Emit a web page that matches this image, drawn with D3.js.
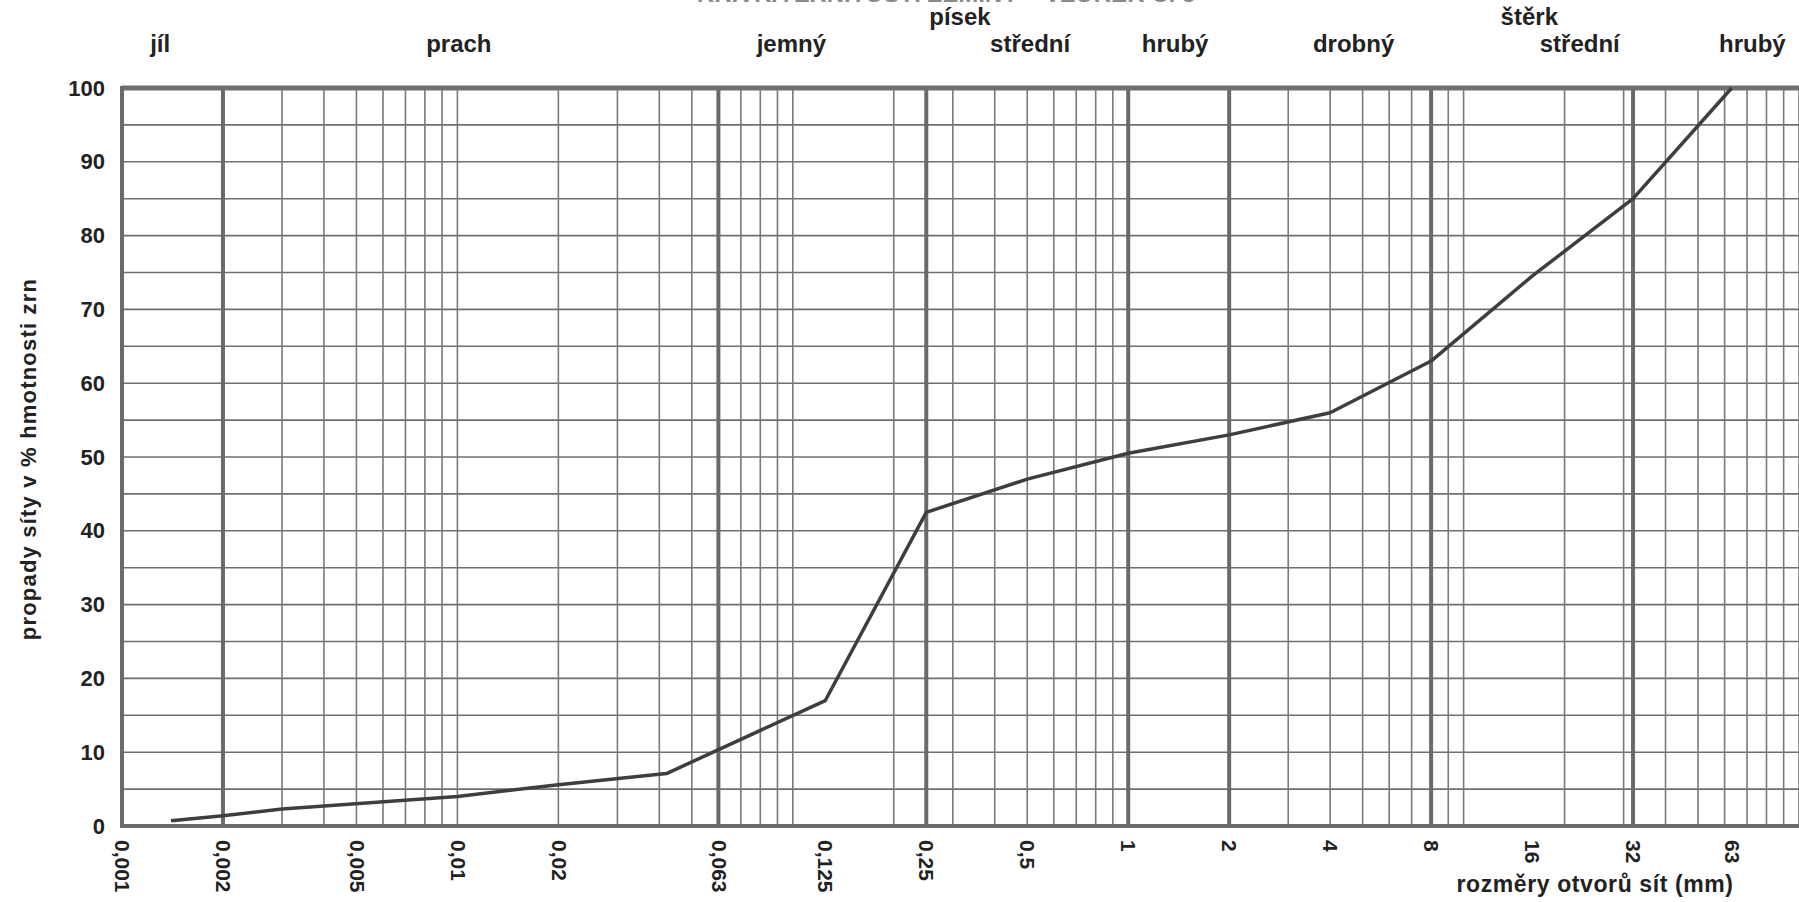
<!DOCTYPE html>
<html>
<head>
<meta charset="utf-8">
<script src="https://cdn.jsdelivr.net/npm/d3@7"></script>
<style>
  body { margin: 0; background: #fff; }
  svg { display: block; font-family: "Liberation Sans", Arial, sans-serif; }
</style>
</head>
<body>
<svg></svg>
<script>
// grain size curve
let sizes = [0.0014, 0.002, 0.003, 0.01, 0.02, 0.042, 0.125, 0.25, 0.5, 1, 2, 4, 8, 16, 32, 63]
let passing = [0.7, 1.4, 2.3, 4.0, 5.6, 7.1, 17.0, 42.5, 47.0, 50.5, 53.0, 56.0, 63.0, 74.5, 85.0, 100]

let xTicks = [0.001, 0.002, 0.005, 0.01, 0.02, 0.06, 0.125, 0.25, 0.5, 1, 2, 4, 8, 16, 32, 63]
let xTickLabels = ['0,001', '0,002', '0,005', '0,01', '0,02', '0,063', '0,125', '0,25', '0,5', '1', '2', '4', '8', '16', '32', '63']
let yTicks = [0, 10, 20, 30, 40, 50, 60, 70, 80, 90, 100]

// fraction boundaries (heavy lines)
let boundaries = [0.002, 0.06, 0.25, 1, 2, 8, 32]

// fraction names and where they sit (mm)
let fractionNames = ['jíl', 'prach', 'jemný', 'střední', 'hrubý', 'drobný', 'střední', 'hrubý']
let fractionAt = [0.0013, 0.0101, 0.099, 0.51, 1.38, 4.7, 22.2, 72.6]
let groupNames = ['písek', 'štěrk']
let groupAt = [0.315, 15.7]

const width = 1799
const height = 902
const plotLeft = 122
const plotRight = 1799
const plotTop = 88
const plotBottom = 826

const svg = d3.select('svg')
    .attr('width', width)
    .attr('height', height)

let x = d3.scaleLog()
    .domain([0.001, 100])
    .range([plotLeft, plotRight])

let y = d3.scaleLinear()
    .domain([0, 100])
    .range([plotBottom, plotTop])

// title of the sheet, cut off by the scan
svg.append('text')
    .attr('x', 946)
    .attr('y', 2)
    .attr('text-anchor', 'middle')
    .style('font-size', '24px')
    .style('font-weight', 'bold')
    .style('fill', '#8a8a8a')
    .text('KŘIVKA ZRNITOSTI ZEMINY – VZOREK Č. 3')

let grid = svg.append('g')

// horizontal lines every 5 %
grid.selectAll('.hline')
    .data(d3.range(5, 100, 5))
    .enter()
    .append('line')
    .attr('x1', plotLeft)
    .attr('x2', plotRight)
    .attr('y1', (d) => y(d))
    .attr('y2', (d) => y(d))
    .attr('stroke', '#6f6f6f')
    .attr('stroke-width', 1.6)

// log minor lines 1..9 per decade
grid.selectAll('.vline')
    .data(x.ticks())
    .enter()
    .append('line')
    .attr('x1', (d) => x(d))
    .attr('x2', (d) => x(d))
    .attr('y1', plotTop)
    .attr('y2', plotBottom)
    .attr('stroke', '#7a7a7a')
    .attr('stroke-width', 1.6)

grid.selectAll('.bline')
    .data(boundaries)
    .enter()
    .append('line')
    .attr('x1', (d) => x(d))
    .attr('x2', (d) => x(d))
    .attr('y1', plotTop)
    .attr('y2', plotBottom)
    .attr('stroke', '#6a6a6a')
    .attr('stroke-width', 4)

// frame
svg.append('line')
    .attr('x1', plotLeft).attr('x2', plotRight)
    .attr('y1', y(100)).attr('y2', y(100))
    .attr('stroke', '#707070').attr('stroke-width', 5)
svg.append('line')
    .attr('x1', plotLeft).attr('x2', plotRight)
    .attr('y1', y(0)).attr('y2', y(0))
    .attr('stroke', '#6a6a6a').attr('stroke-width', 4)
svg.append('line')
    .attr('x1', plotLeft).attr('x2', plotLeft)
    .attr('y1', plotTop - 2).attr('y2', plotBottom + 2)
    .attr('stroke', '#6a6a6a').attr('stroke-width', 4)

// the curve
let line = d3.line()
    .x((d, i) => x(sizes[i]))
    .y((d) => y(d))

svg.append('path')
    .datum(passing)
    .attr('d', line)
    .attr('fill', 'none')
    .attr('stroke', '#3e3e3e')
    .attr('stroke-width', 3.5)
    .attr('stroke-linejoin', 'round')

// axes
let xAxis = d3.axisBottom(x)
    .tickValues(xTicks)
    .tickFormat((d, i) => xTickLabels[i])
    .tickSize(0)

let gx = svg.append('g')
    .attr('transform', 'translate(0, ' + (plotBottom + 14) + ')')
    .call(xAxis)
gx.select('.domain').remove()
gx.selectAll('text')
    .attr('transform', 'rotate(90)')
    .attr('x', 0)
    .attr('y', 0)
    .attr('dy', '0.35em')
    .attr('text-anchor', 'start')
    .style('font-size', '21px')
    .style('font-weight', 'bold')
    .style('fill', '#222')
    .style('font-family', '"Liberation Sans", Arial, sans-serif')

let yAxis = d3.axisLeft(y)
    .tickValues(yTicks)
    .tickSize(0)
    .tickPadding(17)

let gy = svg.append('g')
    .attr('transform', 'translate(' + plotLeft + ', 0)')
    .call(yAxis)
gy.select('.domain').remove()
gy.selectAll('text')
    .style('font-size', '22px')
    .style('font-weight', 'bold')
    .style('fill', '#222')
    .style('font-family', '"Liberation Sans", Arial, sans-serif')

// axis titles
svg.append('text')
    .attr('transform', 'translate(28, 459) rotate(-90)')
    .attr('text-anchor', 'middle')
    .attr('dy', '0.35em')
    .style('font-size', '22px')
    .style('font-weight', 'bold')
    .style('letter-spacing', '1.2px')
    .style('fill', '#222')
    .text('propady síty v % hmotnosti zrn')

svg.append('text')
    .attr('x', 1595)
    .attr('y', 892)
    .attr('text-anchor', 'middle')
    .style('font-size', '23px')
    .style('font-weight', 'bold')
    .style('letter-spacing', '0.6px')
    .style('fill', '#222')
    .text('rozměry otvorů sít (mm)')

// fraction labels along the top
svg.selectAll('.fraction')
    .data(fractionNames)
    .enter()
    .append('text')
    .attr('x', (d, i) => x(fractionAt[i]))
    .attr('y', 52)
    .attr('text-anchor', 'middle')
    .style('font-size', '24px')
    .style('font-weight', 'bold')
    .style('fill', '#222')
    .text((d) => d)

svg.selectAll('.group')
    .data(groupNames)
    .enter()
    .append('text')
    .attr('x', (d, i) => x(groupAt[i]))
    .attr('y', 25)
    .attr('text-anchor', 'middle')
    .style('font-size', '24px')
    .style('font-weight', 'bold')
    .style('fill', '#222')
    .text((d) => d)
</script>
</body>
</html>
